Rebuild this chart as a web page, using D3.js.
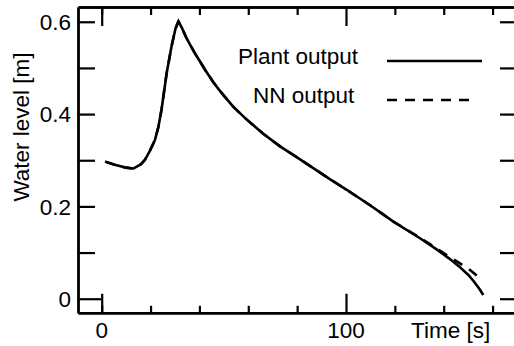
<!DOCTYPE html>
<html>
<head>
<meta charset="utf-8">
<script src="https://cdn.jsdelivr.net/npm/d3@7"></script>
<style>
  body { margin: 0; background: #fff; }
  text { font-family: "Liberation Sans", Arial, sans-serif; fill: #000; }
</style>
</head>
<body>
<div id="chart"></div>
<script>
// plant output (solid) and neural network output (dashed)
var plantTime = [1.4, 5, 10, 12.9, 16, 17.7, 19.5, 21.8, 23.2, 24.5, 26.6, 28.6, 30.2, 31.4, 33, 34.5, 36.1, 38, 40, 42.3, 45.7, 48, 50, 54, 59.4, 66, 73, 81.2, 86.6, 93.4, 100.3, 110, 119.4, 130.3, 137.1, 142, 146.7, 150, 152.1, 154.5, 156.2];
var plantLevel = [0.297, 0.291, 0.284, 0.282, 0.291, 0.301, 0.318, 0.344, 0.372, 0.41, 0.489, 0.547, 0.585, 0.601, 0.585, 0.567, 0.551, 0.533, 0.516, 0.496, 0.469, 0.453, 0.44, 0.415, 0.388, 0.358, 0.33, 0.302, 0.283, 0.259, 0.236, 0.202, 0.167, 0.131, 0.107, 0.088, 0.068, 0.052, 0.039, 0.022, 0.008];
var nnTime = [1.4, 5, 10, 12.9, 16, 17.7, 19.5, 21.8, 23.2, 24.5, 26.6, 28.6, 30.2, 31.4, 33, 34.5, 36.1, 38, 40, 42.3, 45.7, 48, 50, 54, 59.4, 66, 73, 81.2, 86.6, 93.4, 100.3, 110, 119.4, 130.3, 137.1, 142.6, 146.5, 150.8, 154.9];
var nnLevel = [0.297, 0.291, 0.284, 0.282, 0.291, 0.301, 0.318, 0.344, 0.372, 0.41, 0.489, 0.547, 0.585, 0.601, 0.585, 0.567, 0.551, 0.533, 0.516, 0.496, 0.469, 0.453, 0.44, 0.415, 0.388, 0.358, 0.33, 0.302, 0.283, 0.259, 0.236, 0.202, 0.167, 0.132, 0.109, 0.09, 0.077, 0.062, 0.044];

var xMinorTicks = [0, 20, 40, 60, 80, 120, 140, 160];
var xMajorTicks = [0, 100];
var yTicks = [0, 0.1, 0.2, 0.3, 0.4, 0.5, 0.6];
var yLabels = [0, 0.2, 0.4, 0.6];

var legendNames = ["Plant output", "NN output"];

var W = 514, H = 346;
var svg = d3.select("#chart").append("svg")
    .attr("width", W)
    .attr("height", H);

var x = d3.scaleLinear().domain([-9.7, 170]).range([78, 517]);
var y = d3.scaleLinear().domain([-0.0305, 0.632]).range([312.8, 7]);

var axisStroke = 2.4;
var fontSize = "22.5px";

function styleAxis(g) {
  g.select(".domain").attr("stroke", "#000").attr("stroke-width", axisStroke);
  g.selectAll(".tick line").attr("stroke", "#000").attr("stroke-width", 2.2);
  g.selectAll(".tick text").remove();
}

// bottom axis
svg.append("g")
  .attr("transform", "translate(0," + y.range()[0] + ")")
  .call(d3.axisBottom(x).tickValues(xMinorTicks).tickSize(-7).tickSizeOuter(0))
  .call(styleAxis);
svg.append("g")
  .attr("transform", "translate(0," + y.range()[0] + ")")
  .call(d3.axisBottom(x).tickValues(xMajorTicks).tickSize(-19).tickSizeOuter(0))
  .call(styleAxis);

// top axis
svg.append("g")
  .attr("transform", "translate(0," + y.range()[1] + ")")
  .call(d3.axisTop(x).tickValues(xMinorTicks).tickSize(-8).tickSizeOuter(0))
  .call(styleAxis);
svg.append("g")
  .attr("transform", "translate(0," + y.range()[1] + ")")
  .call(d3.axisTop(x).tickValues(xMajorTicks).tickSize(-19).tickSizeOuter(0))
  .call(styleAxis);

// left axis
svg.append("g")
  .attr("transform", "translate(" + x.range()[0] + ",0)")
  .call(d3.axisLeft(y).tickValues(yTicks.slice(1)).tickSize(-17).tickSizeOuter(0))
  .call(styleAxis);
svg.append("g")
  .attr("transform", "translate(" + x.range()[0] + ",0)")
  .call(d3.axisLeft(y).tickValues([0]).tickSize(-23).tickSizeOuter(0))
  .call(styleAxis);

// right axis
svg.append("g")
  .attr("transform", "translate(" + x.range()[1] + ",0)")
  .call(d3.axisRight(y).tickValues(yTicks).tickSize(-17).tickSizeOuter(0))
  .call(styleAxis);

// tick labels
svg.append("g").selectAll("text")
  .data(yLabels)
  .enter().append("text")
    .attr("x", 71)
    .attr("y", function(d) { return y(d); })
    .attr("dy", "0.36em")
    .attr("text-anchor", "end")
    .style("font-size", fontSize)
    .text(function(d) { return d; });

svg.append("g").selectAll("text")
  .data(xMajorTicks)
  .enter().append("text")
    .attr("x", function(d) { return x(d); })
    .attr("y", 338)
    .attr("text-anchor", "middle")
    .style("font-size", fontSize)
    .text(function(d) { return d; });

// axis titles
svg.append("text")
  .attr("x", 411)
  .attr("y", 338)
  .style("font-size", fontSize)
  .text("Time [s]");

svg.append("text")
  .attr("transform", "translate(29,127) rotate(-90)")
  .attr("text-anchor", "middle")
  .style("font-size", fontSize)
  .text("Water level [m]");

// curves
var line = d3.line()
  .x(function(d) { return x(d[0]); })
  .y(function(d) { return y(d[1]); });

svg.append("path")
  .datum(d3.zip(nnTime, nnLevel))
  .attr("fill", "none")
  .attr("stroke", "#000")
  .attr("stroke-width", 2.6)
  .attr("stroke-dasharray", "10,8")
  .attr("d", line);

svg.append("path")
  .datum(d3.zip(plantTime, plantLevel))
  .attr("fill", "none")
  .attr("stroke", "#000")
  .attr("stroke-width", 2.6)
  .attr("stroke-linejoin", "round")
  .attr("d", line);

// legend
var legendY = [61, 100];
var legendX = [238, 253];
svg.append("g").selectAll("text")
  .data(legendNames)
  .enter().append("text")
    .attr("x", function(d, i) { return legendX[i]; })
    .attr("y", function(d, i) { return legendY[i] + 3; })
    .style("font-size", fontSize)
    .text(function(d) { return d; });

svg.append("line")
  .attr("x1", 387).attr("x2", 482)
  .attr("y1", legendY[0]).attr("y2", legendY[0])
  .attr("stroke", "#000").attr("stroke-width", 2.6);
svg.append("line")
  .attr("x1", 387).attr("x2", 476)
  .attr("y1", legendY[1]).attr("y2", legendY[1])
  .attr("stroke", "#000").attr("stroke-width", 2.6)
  .attr("stroke-dasharray", "10,8");
</script>
</body>
</html>
